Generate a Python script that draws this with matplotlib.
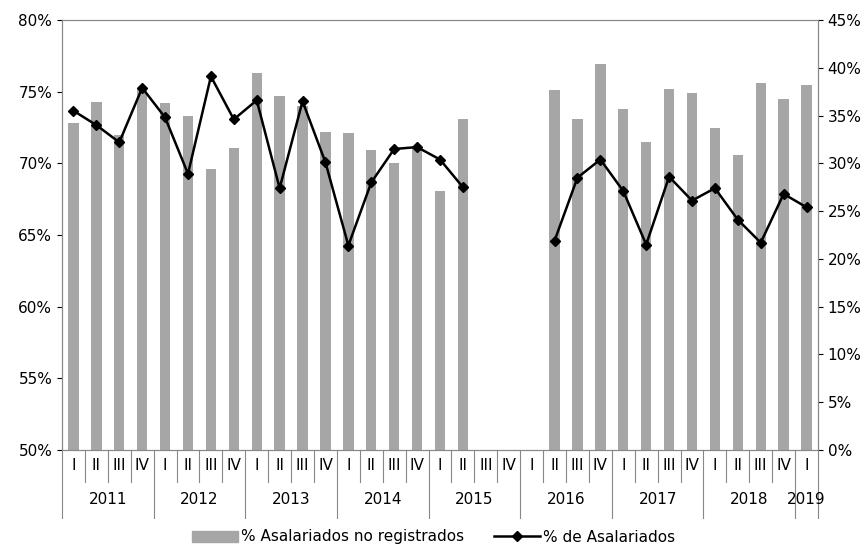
import numpy as np
import matplotlib.pyplot as plt
from matplotlib.lines import Line2D

years = ['2011', '2012', '2013', '2014', '2015', '2016', '2017', '2018', '2019']
quarters = ['I', 'II', 'III', 'IV'] * 8 + ['I']
nan = np.nan
no_registrados = [72.8, 74.3, 72.0, 75.2, 74.2, 73.3, 69.6, 71.1,
                  76.3, 74.7, 74.0, 72.2, 72.1, 70.9, 70.0, 71.0,
                  68.1, 73.1, nan, nan, nan, 75.1, 73.1, 76.9,
                  73.8, 71.5, 75.2, 74.9, 72.5, 70.6, 75.6, 74.5, 75.5]
asalariados = [35.5, 34.0, 32.2, 37.9, 34.8, 28.9, 39.1, 34.6,
               36.6, 27.4, 36.5, 30.1, 21.4, 28.0, 31.5, 31.7,
               30.4, 27.5, nan, nan, nan, 21.9, 28.5, 30.4,
               27.1, 21.5, 28.6, 26.1, 27.4, 24.1, 21.7, 26.8, 25.4]

n = len(quarters)
x = np.arange(n)

fig = plt.figure(figsize=(8.67, 5.46), dpi=100)
ax = fig.add_axes([62/867, 96/546, 756/867, 430/546])
ax.bar(x, np.array(no_registrados) - 50, bottom=50, width=0.45, color='#a6a6a6', zorder=2)
ax.set_ylim(50, 80)
ax.set_xlim(-0.5, n - 0.5)
ax.set_yticks(range(50, 81, 5))
ax.set_yticklabels([f'{v}%' for v in range(50, 81, 5)], fontsize=11)
ax.set_xticks([])

ax2 = ax.twinx()
ax2.plot(x, asalariados, color='black', lw=1.8, marker='D', ms=5, zorder=3)
ax2.set_ylim(0, 45)
ax2.set_yticks(range(0, 46, 5))
ax2.set_yticklabels([f'{v}%' for v in range(0, 46, 5)], fontsize=11)
ax2.set_xlim(-0.5, n - 0.5)

for a in (ax, ax2):
    for s in a.spines.values():
        s.set_color('#888888')

# two-level category axis
trans = ax.get_xaxis_transform()
for i, q in enumerate(quarters):
    ax.text(i, -0.037, q, transform=trans, ha='center', va='center', fontsize=11, clip_on=False)
for b in np.arange(-0.5, n, 1):
    major = (b + 0.5) % 4 == 0 or b == n - 0.5
    ax.plot([b, b], [0, -0.158 if major else -0.074], transform=trans, color='#888888', lw=0.8, clip_on=False)
for k, yr in enumerate(years):
    start = k * 4
    end = min(start + 4, n)
    ax.text((start + end - 1) / 2, -0.116, yr, transform=trans, ha='center', va='center', fontsize=11)

handles = [plt.Rectangle((0, 0), 1, 1, color='#a6a6a6'),
           Line2D([], [], color='black', lw=1.8, marker='D', ms=5)]
fig.legend(handles, ['% Asalariados no registrados', '% de Asalariados'],
           loc='center', ncol=2, frameon=False, fontsize=11,
           bbox_to_anchor=(0.5, 9/546), handlelength=3, columnspacing=2, handletextpad=0.2)

fig.savefig('out.png', dpi=100)
